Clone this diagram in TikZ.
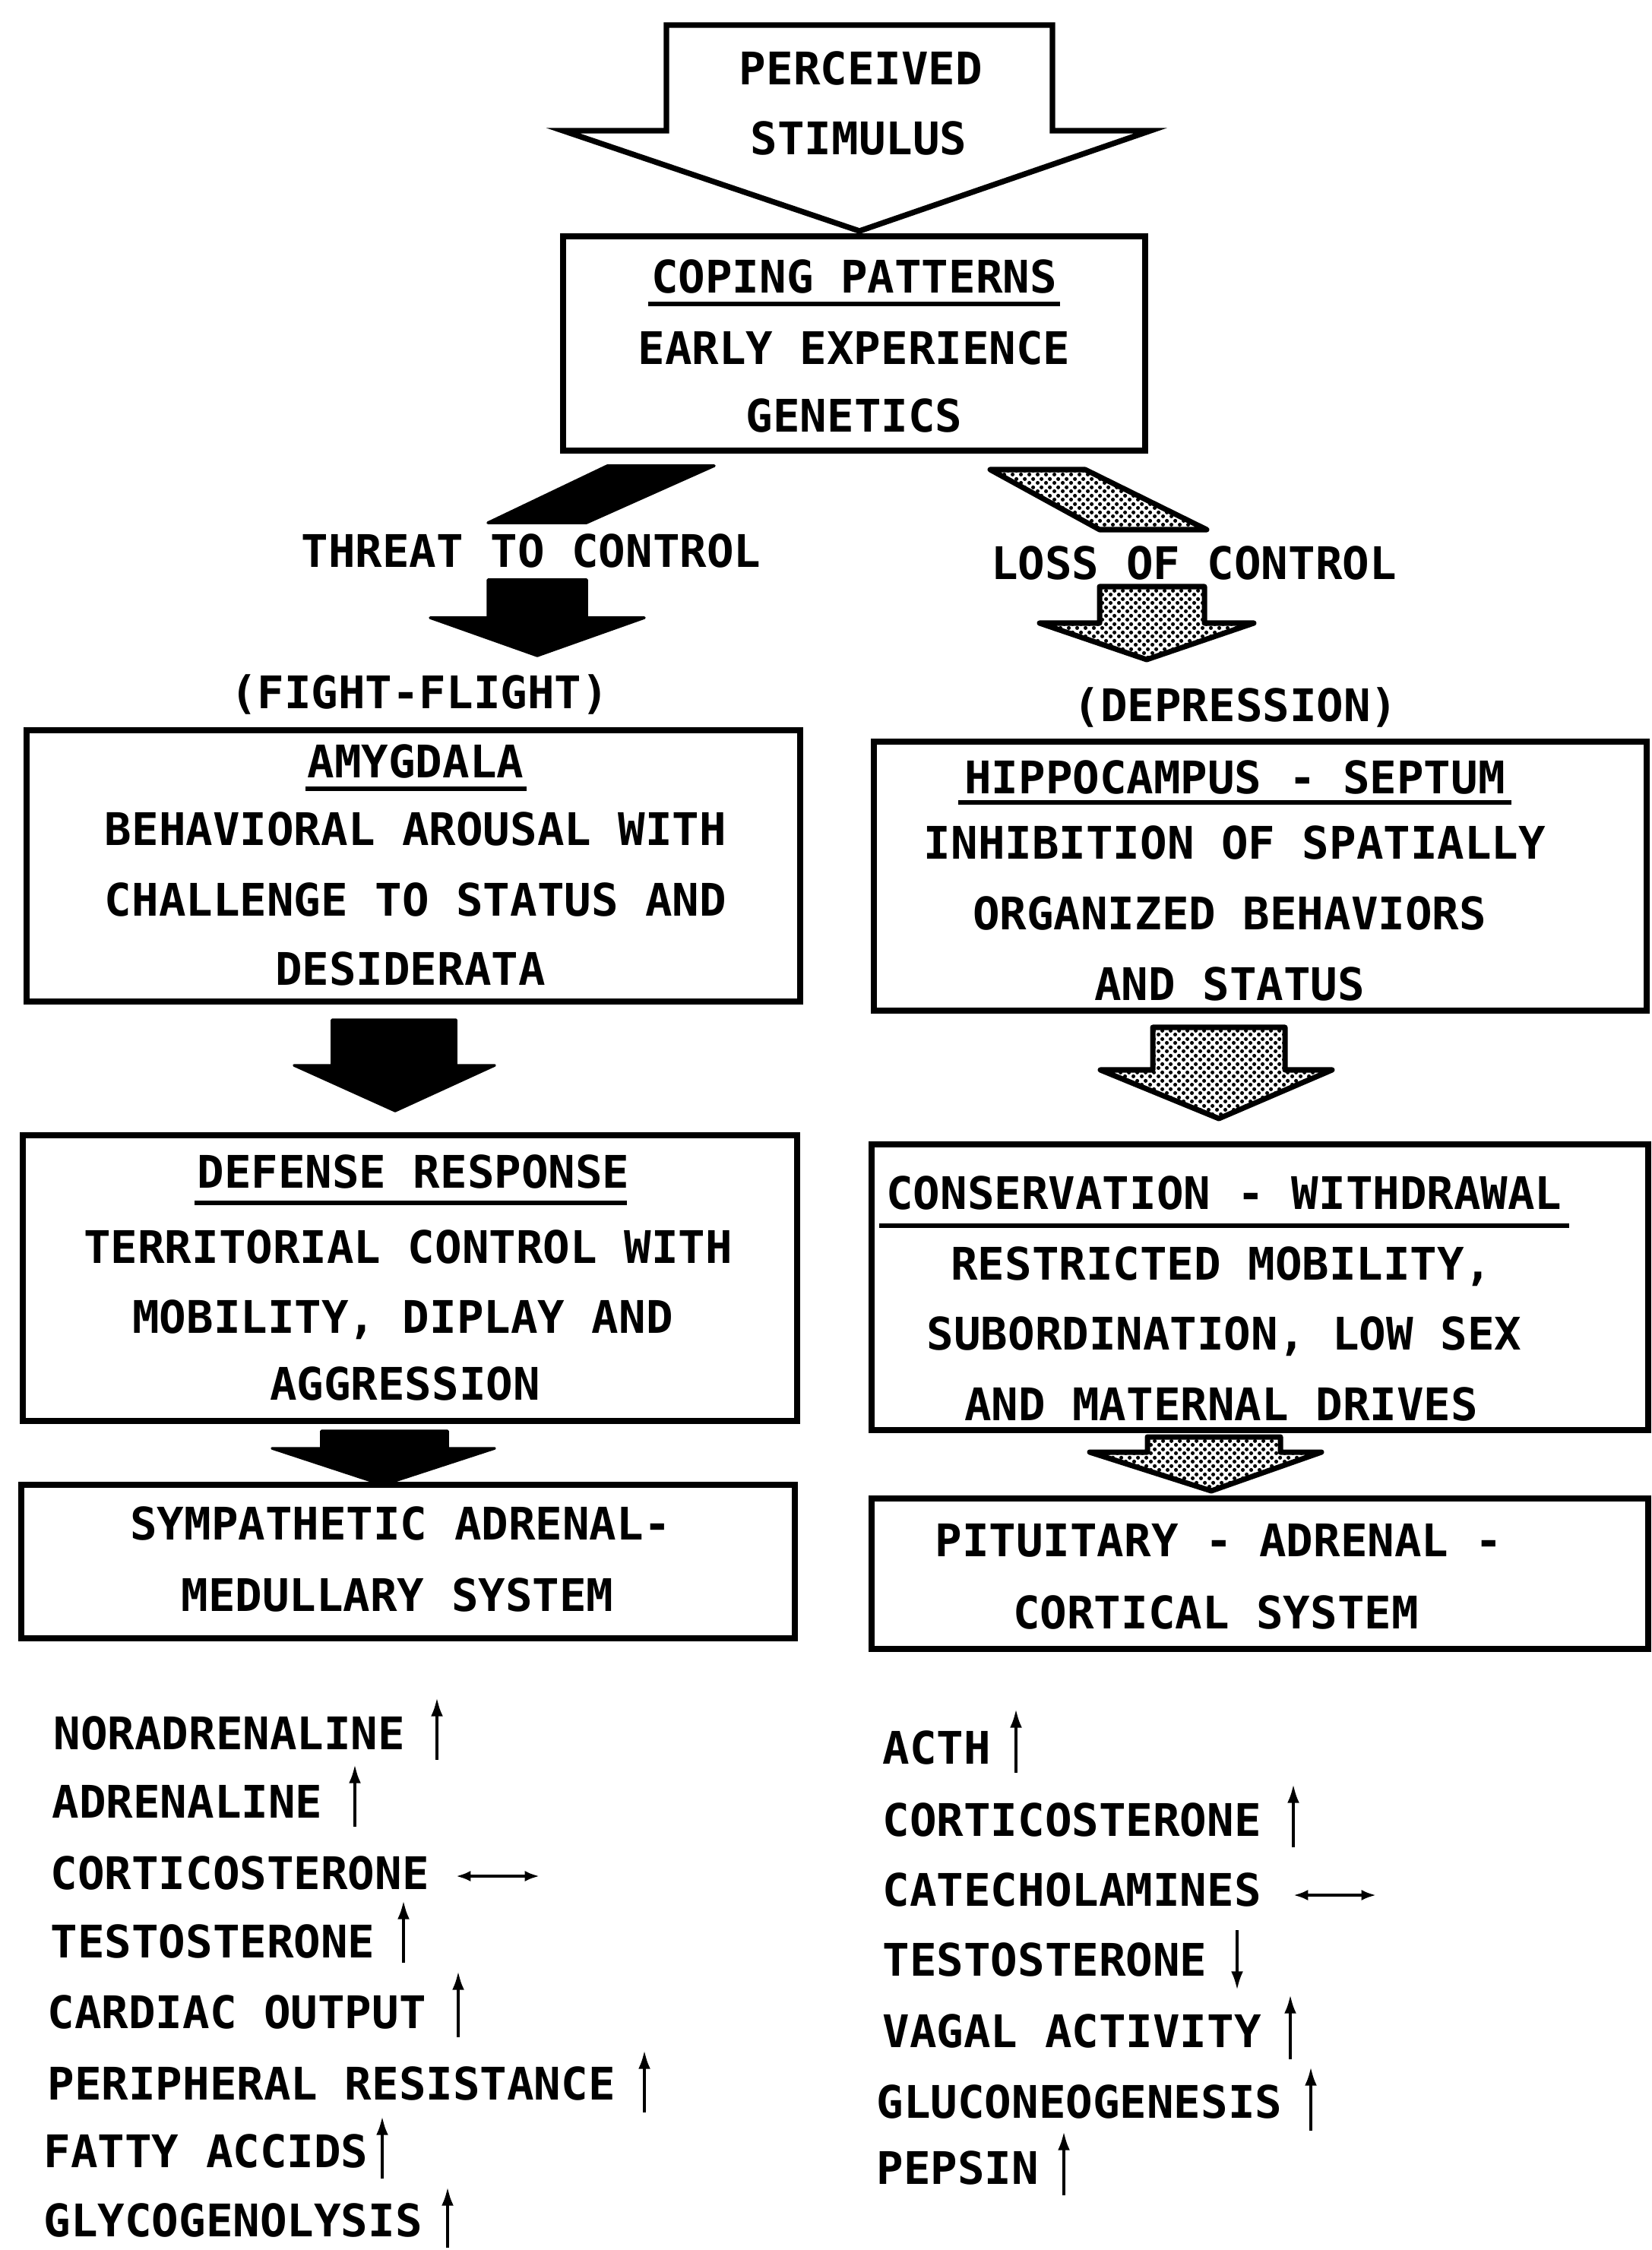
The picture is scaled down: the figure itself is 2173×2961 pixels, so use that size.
\documentclass[tikz,border=0pt]{standalone}
\usepackage{fontspec}
\newfontfamily\dfont{DejaVu Sans Mono}
\usetikzlibrary{patterns,patterns.meta,arrows.meta,fit}
\pgfdeclarepattern{name=stipple, type=uncolored,
  bottom left={\pgfpoint{0pt}{0pt}}, top right={\pgfpoint{3pt}{3pt}},
  tile size={\pgfpoint{3pt}{3pt}},
  code={\pgfpathcircle{\pgfpoint{0.75pt}{0.75pt}}{0.75pt}\pgfpathcircle{\pgfpoint{2.25pt}{2.25pt}}{0.75pt}\pgfusepath{fill}}}
\tikzset{
 lbl/.style={font=\dfont\bfseries\fontsize{16.8}{20}\selectfont, inner sep=0pt, anchor=base},
 lst/.style={lbl, anchor=base west},
 boxs/.style={draw, line width=2.1pt, inner sep=0pt},
 ul/.style={line width=1.6pt},
 blk/.style={fill=black, draw=black, line width=1pt, line join=round},
 dotty/.style={pattern=stipple, pattern color=black, draw=black, line width=2pt, line join=round},
 outl/.style={draw=black, fill=white, line width=2.1pt, line join=miter},
 upar/.style={line width=1.15pt, -{Latex[length=7pt,width=4.5pt]}},
 lrar/.style={line width=1.3pt, {Latex[length=5.5pt,width=4pt]}-{Latex[length=5.5pt,width=4pt]}},
}
\begin{document}
\begin{tikzpicture}[x=0.01cm,y=-0.01cm]
\useasboundingbox[fill=white] (0,0) rectangle (2173,2961);

% perceived stimulus arrow
\draw[outl] (877,33) -- (1385,33) -- (1385,172) -- (1514,172) -- (1131,304) -- (741,172) -- (877,172) -- cycle;
\node[lbl] (perc) at (1133,112) {PERCEIVED};
\node[lbl] (stim) at (1130,204) {STIMULUS};

% coping box
\node[boxs, fit={(741,311) (1507,593)}] (cope) {};
\node[lbl] (copeh) at (1124,386) {COPING PATTERNS};
\draw[ul] (853,400) -- (1395,400);
\node[lbl] (early) at (1124,480) {EARLY EXPERIENCE};
\node[lbl] (gene) at (1124,569) {GENETICS};

% branch parallelograms
\fill[blk] (799,613) -- (940,613) -- (772,688) -- (642,688) -- cycle;
\draw[dotty] (1303,618) -- (1428,618) -- (1588,697) -- (1447,697) -- cycle;

\node[lbl] (threat) at (699,746) {THREAT TO CONTROL};
\node[lbl] (loss) at (1571,762) {LOSS OF CONTROL};

% first down arrows
\fill[blk] (642,763) -- (772,763) -- (772,813) -- (848,813) -- (707,863) -- (566,813) -- (642,813) -- cycle;
\draw[dotty] (1447,772) -- (1585,772) -- (1585,820) -- (1650,820) -- (1509,868) -- (1368,820) -- (1447,820) -- cycle;

\node[lbl] (fight) at (552,932) {(FIGHT-FLIGHT)};
\node[lbl] (depr) at (1626,949) {(DEPRESSION)};

% amygdala box
\node[boxs, fit={(35,961) (1053,1318)}] (amy) {};
\node[lbl] (amyh) at (547,1023) {AMYGDALA};
\draw[ul] (402,1038) -- (693,1038);
\node[lbl] (amy1) at (547,1112) {BEHAVIORAL AROUSAL WITH};
\node[lbl] (amy2) at (547,1205) {CHALLENGE TO STATUS AND};
\node[lbl] (amy3) at (540,1296) {DESIDERATA};

% hippocampus box
\node[boxs, fit={(1150,976) (2167,1330)}] (hip) {};
\node[lbl] (hiph) at (1625,1044) {HIPPOCAMPUS - SEPTUM};
\draw[ul] (1261,1056) -- (1989,1056);
\node[lbl] (hip1) at (1625,1130) {INHIBITION OF SPATIALLY};
\node[lbl] (hip2) at (1618,1223) {ORGANIZED BEHAVIORS};
\node[lbl] (hip3) at (1618,1316) {AND STATUS};

% second down arrows
\fill[blk] (437,1342) -- (600,1342) -- (600,1402) -- (651,1402) -- (520,1462) -- (387,1402) -- (437,1402) -- cycle;
\draw[dotty] (1517,1352) -- (1691,1352) -- (1691,1408) -- (1753,1408) -- (1604,1472) -- (1448,1408) -- (1517,1408) -- cycle;

% defense box
\node[boxs, fit={(30,1494) (1049,1870)}] (def) {};
\node[lbl] (defh) at (544,1563) {DEFENSE RESPONSE};
\draw[ul] (256,1583) -- (825,1583);
\node[lbl] (def1) at (537,1662) {TERRITORIAL CONTROL WITH};
\node[lbl] (def2) at (530,1754) {MOBILITY, DIPLAY AND};
\node[lbl] (def3) at (533,1842) {AGGRESSION};

% conservation box
\node[boxs, fit={(1147,1506) (2169,1882)}] (cons) {};
\node[lbl] (consh) at (1611,1591) {CONSERVATION - WITHDRAWAL};
\draw[ul] (1157,1613) -- (2065,1613);
\node[lbl] (cons1) at (1607,1684) {RESTRICTED MOBILITY,};
\node[lbl] (cons2) at (1611,1776) {SUBORDINATION, LOW SEX};
\node[lbl] (cons3) at (1607,1869) {AND MATERNAL DRIVES};

% third down arrows
\fill[blk] (423,1883) -- (589,1883) -- (589,1906) -- (651,1906) -- (504,1954) -- (358,1906) -- (423,1906) -- cycle;
\draw[dotty] (1510,1891) -- (1685,1891) -- (1685,1911) -- (1739,1911) -- (1594,1962) -- (1434,1911) -- (1510,1911) -- cycle;

% system boxes
\node[boxs, fit={(28,1954) (1046,2156)}] (symp) {};
\node[lbl] (symp1) at (527,2026) {SYMPATHETIC ADRENAL-};
\node[lbl] (symp2) at (523,2120) {MEDULLARY SYSTEM};

\node[boxs, fit={(1147,1972) (2169,2170)}] (pit) {};
\node[lbl] (pit1) at (1604,2048) {PITUITARY - ADRENAL -};
\node[lbl] (pit2) at (1600,2143) {CORTICAL SYSTEM};

% left list
\node[lst] (l1) at (70,2302) {NORADRENALINE};
\node[lst] (l2) at (68,2392) {ADRENALINE};
\node[lst] (l3) at (66,2486) {CORTICOSTERONE};
\node[lst] (l4) at (66,2576) {TESTOSTERONE};
\node[lst] (l5) at (62,2669) {CARDIAC OUTPUT};
\node[lst] (l6) at (62,2763) {PERIPHERAL RESISTANCE};
\node[lst] (l7) at (57,2852) {FATTY ACCIDS};
\node[lst] (l8) at (57,2943) {GLYCOGENOLYSIS};

\draw[upar] (575,2316) -- (575,2234);
\draw[upar] (467,2404) -- (467,2322);
\draw[lrar] (600,2469) -- (710,2469);
\draw[upar] (531,2583) -- (531,2501);
\draw[upar] (603,2681) -- (603,2594);
\draw[upar] (848,2780) -- (848,2698);
\draw[upar] (503,2867) -- (503,2785);
\draw[upar] (589,2958) -- (589,2878);

% right list
\node[lst] (r1) at (1161,2321) {ACTH};
\node[lst] (r2) at (1161,2416) {CORTICOSTERONE};
\node[lst] (r3) at (1161,2508) {CATECHOLAMINES};
\node[lst] (r4) at (1161,2600) {TESTOSTERONE};
\node[lst] (r5) at (1161,2694) {VAGAL ACTIVITY};
\node[lst] (r6) at (1153,2787) {GLUCONEOGENESIS};
\node[lst] (r7) at (1153,2874) {PEPSIN};

\draw[upar] (1337,2333) -- (1337,2249);
\draw[upar] (1702,2431) -- (1702,2348);
\draw[lrar] (1702,2494) -- (1811,2494);
\draw[upar] (1628,2540) -- (1628,2619);
\draw[upar] (1698,2710) -- (1698,2625);
\draw[upar] (1725,2804) -- (1725,2720);
\draw[upar] (1400,2889) -- (1400,2805);
\end{tikzpicture}
\end{document}
